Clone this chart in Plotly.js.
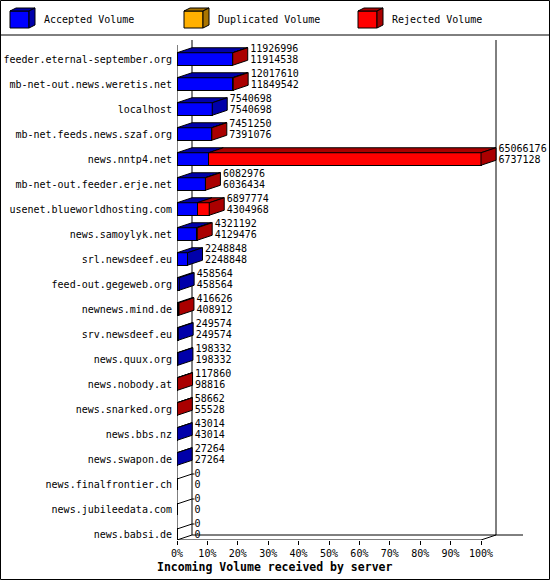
<!DOCTYPE html>
<html>
<head>
<meta charset="utf-8">
<script src="https://cdn.plot.ly/plotly-3.0.1.min.js"></script>
<style>
    body { margin: 0; background: #fff; }
    #graph { width: 550px; height: 580px; }
</style>
</head>
<body>
<div id="graph"></div>
<script>
/* incoming volume per peer, as printed next to each bar */
const servers = [
    "feeder.eternal-september.org",
    "mb-net-out.news.weretis.net",
    "localhost",
    "mb-net.feeds.news.szaf.org",
    "news.nntp4.net",
    "mb-net-out.feeder.erje.net",
    "usenet.blueworldhosting.com",
    "news.samoylyk.net",
    "srl.newsdeef.eu",
    "feed-out.gegeweb.org",
    "newnews.mind.de",
    "srv.newsdeef.eu",
    "news.quux.org",
    "news.nobody.at",
    "news.snarked.org",
    "news.bbs.nz",
    "news.swapon.de",
    "news.finalfrontier.ch",
    "news.jubileedata.com",
    "news.babsi.de",
];
const totals = [
    11926996, 12017610, 7540698, 7451250, 65066176, 6082976, 6897774,
    4321192, 2248848, 458564, 416626, 249574, 198332, 117860, 58662,
    43014, 27264, 0, 0, 0,
];
const accepted = [
    11914538, 11849542, 7540698, 7391076, 6737128, 6036434, 4304968,
    4129476, 2248848, 458564, 408912, 249574, 198332, 98816, 55528,
    43014, 27264, 0, 0, 0,
];
const duplicated = [
    0, 0, 0, 0, 0, 0, 0, 0, 0, 0, 0, 0, 0, 0, 0, 0, 0, 0, 0, 0,
];
const rejected = totals.map((t, i) => t - accepted[i] - duplicated[i]);
const pctTicks = [0, 10, 20, 30, 40, 50, 60, 70, 80, 90, 100];

/* geometry of the fake 3d boxes */
const W = 550, H = 580;
const M = { l: 177, r: 27, t: 40, b: 40 };
const PX_PER_PCT = 3.04;
const DX = 15 / PX_PER_PCT; // depth, in percent units
const DY = 0.2;             // depth, in category units
const HALF = 0.25;
const Y_TOP = -0.76, Y_BOT = 19.24;
const X_MAX = (W - M.l - M.r) / PX_PER_PCT;
const LABEL_GAP = 2.5 / PX_PER_PCT;

const maxTotal = Math.max(...totals);
const pct = (v) => (v / maxTotal) * 100;

const series = [
    { name: "Accepted Volume", values: accepted, face: "#0000ff", dark: "#0000aa" },
    { name: "Duplicated Volume", values: duplicated, face: "#ffb000", dark: "#aa7500" },
    { name: "Rejected Volume", values: rejected, face: "#ff0000", dark: "#aa0000" },
];
const yIdx = servers.map((s, i) => i);

const traces = [];

/* front faces */
series.forEach((s) => {
    traces.push({
        type: "bar",
        orientation: "h",
        y: yIdx,
        x: s.values.map(pct),
        width: 2 * HALF,
        marker: { color: s.face, line: { color: "#000", width: 1 } },
        hoverinfo: "skip",
        showlegend: false,
    });
});

/* top and side faces */
const faces = series.map(() => ({ top: { x: [], y: [] }, side: { x: [], y: [] } }));
function addPoly(target, xs, ys) {
    target.x.push(...xs, xs[0], null);
    target.y.push(...ys, ys[0], null);
}
const zeroX = [], zeroY = [];
servers.forEach((name, i) => {
    const yt = i - HALF, yb = i + HALF;
    let x0 = 0, last = -1;
    series.forEach((s, k) => {
        const w = pct(s.values[i]);
        if (w > 0) {
            addPoly(faces[k].top, [x0, x0 + w, x0 + w + DX, x0 + DX], [yt, yt, yt - DY, yt - DY]);
            x0 += w;
            last = k;
        }
    });
    if (last >= 0) {
        addPoly(faces[last].side, [x0, x0, x0 + DX, x0 + DX], [yt, yb, yb - DY, yt - DY]);
    } else {
        // empty box collapses to one edge on the wall
        zeroX.push(0, DX, DX + LABEL_GAP, null);
        zeroY.push(yt + 0.05, yt - DY + 0.05, yt - DY + 0.05, null);
    }
});
series.forEach((s, k) => {
    ["top", "side"].forEach((f) => {
        traces.push({
            type: "scatter",
            mode: "lines",
            x: faces[k][f].x,
            y: faces[k][f].y,
            fill: "toself",
            fillcolor: s.dark,
            line: { color: "#000", width: 1 },
            hoverinfo: "skip",
            showlegend: false,
        });
    });
});
traces.push({
    type: "scatter",
    mode: "lines",
    x: zeroX,
    y: zeroY,
    line: { color: "#000", width: 1 },
    hoverinfo: "skip",
    showlegend: false,
});

/* value labels: total on top, accepted below */
const labelX = totals.map((t) => pct(t) + DX + LABEL_GAP);
traces.push({
    type: "scatter",
    mode: "text",
    x: labelX,
    y: yIdx.map((i) => i - 0.37),
    text: totals.map(String),
    textposition: "middle right",
    cliponaxis: false,
    textfont: { family: "DejaVu Sans Mono", size: 10, color: "#000" },
    hoverinfo: "skip",
    showlegend: false,
});
traces.push({
    type: "scatter",
    mode: "text",
    x: labelX,
    y: yIdx.map((i) => i + 0.06),
    text: accepted.map(String),
    textposition: "middle right",
    cliponaxis: false,
    textfont: { family: "DejaVu Sans Mono", size: 10, color: "#000" },
    hoverinfo: "skip",
    showlegend: false,
});

/* walls and floor */
function seg(x0, y0, x1, y1) {
    return {
        type: "line", xref: "x", yref: "y", x0, y0, x1, y1,
        line: { color: "#000", width: 1 }, layer: "below",
    };
}
const shapes = [
    seg(0, Y_BOT, 100, Y_BOT),
    seg(100, Y_BOT, 100 + DX, Y_BOT - DY),
    seg(0, Y_BOT, DX, Y_BOT - DY),
    seg(DX, Y_BOT - DY, X_MAX, Y_BOT - DY),
    seg(0, -0.56, 0, Y_BOT),
    seg(DX, Y_TOP, DX, Y_BOT - DY),
    seg(100 + DX, Y_TOP, 100 + DX, Y_BOT - DY),
];

/* pixel -> paper helpers for the frame and legend */
const plotW = W - M.l - M.r, plotH = H - M.t - M.b;
const px = (x) => (x - M.l) / plotW;
const py = (y) => 1 - (y - M.t) / plotH;
function paperPath(pts, fill) {
    const d = pts.map((p, j) => (j ? "L" : "M") + px(p[0]) + "," + py(p[1])).join(" ") + " Z";
    return {
        type: "path", xref: "paper", yref: "paper", path: d,
        fillcolor: fill, line: { color: "#000", width: 1 },
    };
}
shapes.push({
    type: "rect", xref: "paper", yref: "paper",
    x0: px(0.5), y0: py(0.5), x1: px(549.5), y1: py(579.5),
    line: { color: "#000", width: 1 },
});
shapes.push({
    type: "line", xref: "paper", yref: "paper",
    x0: px(0), y0: py(35), x1: px(550), y1: py(35),
    line: { color: "#000", width: 1 },
});

const annotations = [];
const legendX = [10, 184, 358];
series.forEach((s, k) => {
    const x = legendX[k];
    shapes.push(paperPath([[x, 11], [x + 19, 11], [x + 19, 28], [x, 28]], s.face));
    shapes.push(paperPath([[x, 11], [x + 19, 11], [x + 25, 8], [x + 6, 8]], s.dark));
    shapes.push(paperPath([[x + 19, 11], [x + 19, 28], [x + 25, 25], [x + 25, 8]], s.dark));
    annotations.push({
        xref: "paper", yref: "paper", x: px(x + 32), y: py(20),
        xanchor: "left", yanchor: "middle", showarrow: false,
        text: s.name,
        font: { family: "DejaVu Sans Mono", size: 10, color: "#000" },
    });
});
annotations.push({
    xref: "paper", yref: "paper", x: px(274), y: py(567),
    xanchor: "center", yanchor: "middle", showarrow: false,
    text: "Incoming Volume received by server",
    font: { family: "DejaVu Sans Mono", size: 11.5, color: "#000", weight: "bold" },
});

const layout = {
    width: W,
    height: H,
    margin: M,
    paper_bgcolor: "#fff",
    plot_bgcolor: "#fff",
    barmode: "stack",
    bargap: 0,
    showlegend: false,
    font: { family: "DejaVu Sans Mono", size: 10, color: "#000" },
    xaxis: {
        range: [0, X_MAX],
        tickvals: pctTicks,
        ticktext: pctTicks.map((v) => v + "%"),
        ticks: "outside",
        ticklen: 4,
        tickcolor: "#000",
        showgrid: false,
        zeroline: false,
        showline: false,
        fixedrange: true,
    },
    yaxis: {
        range: [Y_BOT, Y_TOP],
        tickvals: yIdx,
        ticktext: servers,
        ticks: "outside",
        ticklen: 2,
        tickcolor: "rgba(0,0,0,0)",
        showgrid: false,
        zeroline: false,
        showline: false,
        fixedrange: true,
    },
    shapes: shapes,
    annotations: annotations,
};

Plotly.newPlot("graph", traces, layout, { staticPlot: true, displayModeBar: false });
</script>
</body>
</html>
